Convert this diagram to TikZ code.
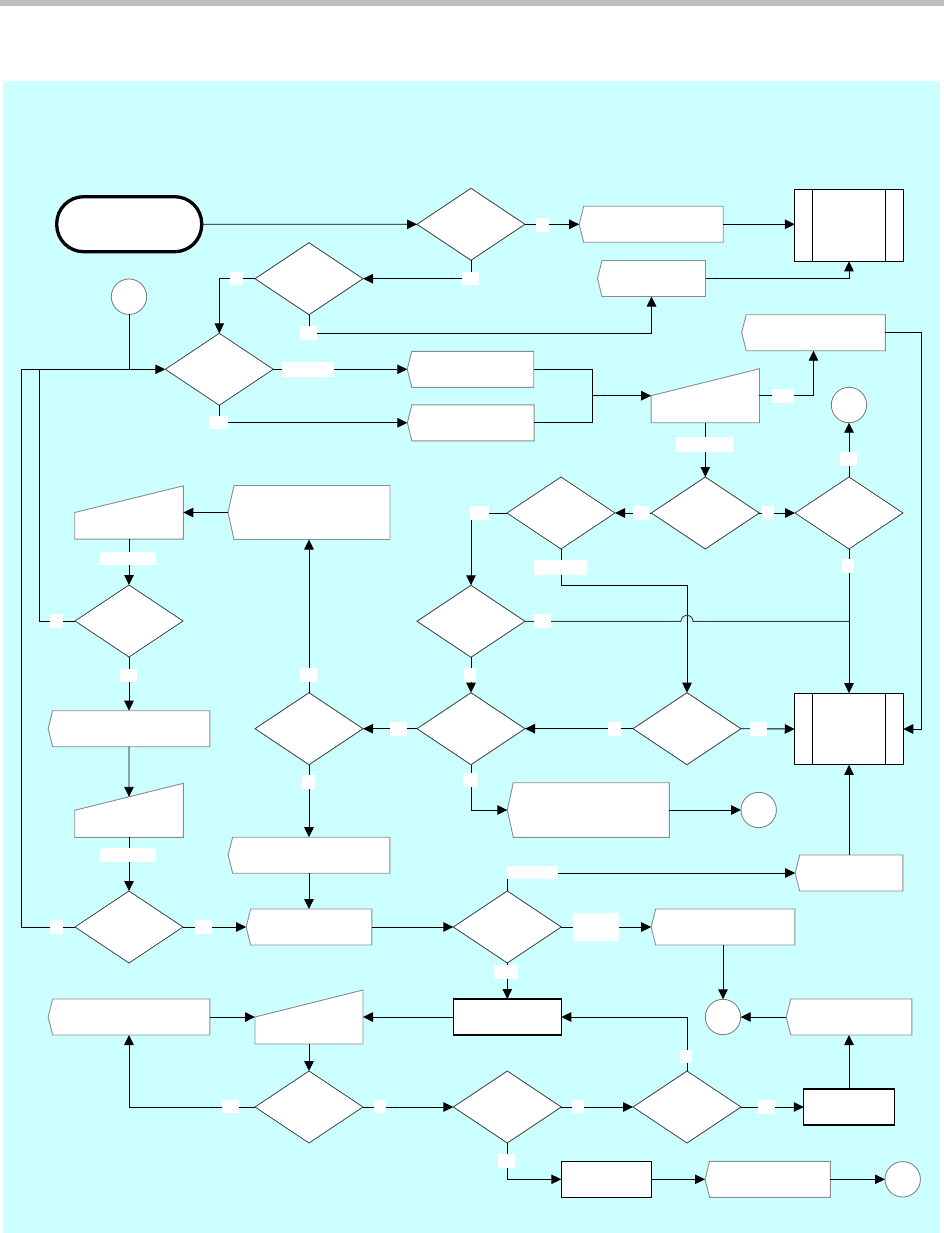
\documentclass[tikz,border=0pt]{standalone}
\usetikzlibrary{arrows.meta,calc}
\definecolor{bgcyan}{HTML}{CCFFFF}
\definecolor{topgray}{HTML}{BFBFBF}
\definecolor{pgray}{HTML}{8C8C8C}
\definecolor{dgray}{HTML}{404040}
\begin{document}
\begin{tikzpicture}[x=1pt,y=-1pt,
  box/.style 2 args={minimum width=#1, minimum height=#2, inner sep=0pt, outer sep=0pt},
  term/.style={draw=black, line width=3.3pt, fill=white, rounded corners=27pt, minimum width=145pt, minimum height=55pt, inner sep=0pt, outer sep=0pt},
  sbox/.style={draw=black, line width=1.2pt, fill=white},
  rbox/.style={draw=black, line width=1.1pt, fill=white},
  cbox/.style={circle, draw=dgray!70, line width=0.8pt, fill=white, minimum size=35.4pt, inner sep=0pt, outer sep=0pt},
  pline/.style={fill=white, draw=pgray, line width=0.9pt},
  dline/.style={fill=white, draw=dgray, line width=0.8pt},
  sline/.style={draw=black, line width=1.2pt},
  conn/.style={draw=black, line width=0.9pt},
  hopline/.style={draw=dgray, line width=0.9pt},
  arr/.style={conn, -{Triangle[length=10pt,width=9.5pt]}},
  lbl/.style 2 args={fill=white, draw=none, inner sep=0pt, outer sep=0pt, minimum width=#1, minimum height=#2}
]
\useasboundingbox (0,0) rectangle (944,1233);
\fill[topgray] (0,0) rectangle (944,6);
\fill[bgcyan] (2.5,81) rectangle (940,1233);

% terminator
\node[term] (T) at (129.2,224.2) {};

% decision holders
\node[box={108}{72}] (D1) at (471,224.3) {};
\node[box={108}{72}] (D2) at (309,278.7) {};
\node[box={108}{72}] (D3) at (219.3,369.3) {};
\node[box={108}{72}] (D4) at (705.3,513) {};
\node[box={108}{72}] (D5) at (561,513) {};
\node[box={108}{72}] (D6) at (849,513) {};
\node[box={108}{72}] (D7) at (471,621.3) {};
\node[box={108}{72}] (D8) at (687,728.7) {};
\node[box={108}{72}] (D9) at (471,728.7) {};
\node[box={108}{72}] (D10) at (309,728.7) {};
\node[box={108}{72}] (D11) at (129,621) {};
\node[box={108}{72}] (D12) at (129,927) {};
\node[box={108}{72}] (D13) at (507.3,927) {};
\node[box={108}{72}] (D14) at (507.3,1107) {};
\node[box={108}{72}] (D15) at (687,1107) {};
\node[box={108}{72}] (D16) at (309,1107) {};

% notched boxes
\node[box={144}{36}] (P1) at (651.2,224.3) {};
\node[box={108}{36}] (P2) at (651.5,278.5) {};
\node[box={126.5}{36}] (P3) at (470.5,369.3) {};
\node[box={126.7}{36}] (P4) at (470.7,422.8) {};
\node[box={143.6}{36}] (P5) at (813.5,332.7) {};
\node[box={162}{54}] (P6) at (309,512.5) {};
\node[box={161.7}{36}] (P7) at (129,728.7) {};
\node[box={161.7}{36}] (P8) at (309,855.2) {};
\node[box={125.7}{36}] (P9) at (309,927) {};
\node[box={162}{54.6}] (P10) at (588.3,810) {};
\node[box={143.7}{36}] (P11) at (723,927) {};
\node[box={107.7}{36}] (P12) at (849,873) {};
\node[box={125.6}{36}] (P13) at (849,1017) {};
\node[box={125.3}{36}] (P14) at (767.7,1179.3) {};
\node[box={161.7}{36}] (P15) at (129,1017) {};

% manual input holders
\node[box={108.3}{54}] (M1) at (705.3,395.7) {};
\node[box={108.6}{53.3}] (M2) at (129,512.5) {};
\node[box={108.6}{54}] (M3) at (129,810.3) {};
\node[box={108}{54}] (M4) at (309,1017) {};

% predefined process boxes
\node[box={108.3}{72}, sbox] (S1) at (849,225.3) {};
\node[box={108.5}{71.7}, sbox] (S2) at (849,729) {};
\node[box={108}{36}, rbox] (R1) at (507.3,1017) {};
\node[box={90.3}{36}, rbox] (R2) at (849,1107) {};
\node[box={90}{36}, rbox] (R3) at (606.3,1179.3) {};

% connector circles
\node[cbox] (C1) at (129,296.7) {};
\node[cbox] (C2) at (849,405) {};
\node[cbox] (C3) at (758.7,810) {};
\node[cbox] (C4) at (723,1017) {};
\node[cbox] (C5) at (902.7,1179.3) {};

% outlines
\foreach \n in {D1,D2,D3,D4,D5,D6,D7,D8,D9,D10,D11,D12,D13,D14,D15,D16}
  \filldraw[dline] (\n.north) -- (\n.east) -- (\n.south) -- (\n.west) -- cycle;
\foreach \n in {P1,P2,P3,P4,P5,P7,P8,P9,P11,P12,P13,P14,P15}
  \filldraw[pline] ($(\n.north west)+(4.5,0)$) -- (\n.north east) -- (\n.south east) -- ($(\n.south west)+(4.5,0)$) -- (\n.west) -- cycle;
\foreach \n in {P6,P10}
  \filldraw[pline] ($(\n.north west)+(6,0)$) -- (\n.north east) -- (\n.south east) -- ($(\n.south west)+(6,0)$) -- (\n.west) -- cycle;
\foreach \n in {M1,M2,M3,M4}
  \filldraw[pline] (\n.west) -- (\n.north east) -- (\n.south east) -- (\n.south west) -- cycle;
\foreach \n in {S1,S2} {
  \draw[sline] ($(\n.north west)+(18,0)$) -- ($(\n.south west)+(18,0)$);
  \draw[sline] ($(\n.north east)+(-18,0)$) -- ($(\n.south east)+(-18,0)$);
}

% connectors
\coordinate (J0) at (21.3,369.3);
\coordinate (J1) at (39.7,369.3);
\coordinate (J2) at (592.7,395.7);
\draw[arr] (T.east) -- (D1.west);
\draw[arr] (D1.east) -- (P1.west);
\draw[arr] (P1.east) -- (P1.east -| S1.west);
\draw[arr] (D1.south) |- (D2.east);
\draw[arr] (D2.west) -| (D3.north);
\draw[arr] (D2.south) -- ++(0,18.6) -| (P2.south);
\draw[arr] (P2.east) -| (S1.south);
\draw[conn] (C1.south) -- (C1.south |- D3.west);
\draw[arr] (J0) -- (D3.west);
\draw[conn] (D11.west) -| (J1);
\draw[conn] (D12.west) -| (J0);
\draw[arr] (D3.east) -- (P3.west);
\draw[arr] (D3.south) |- (P4.west);
\draw[conn] (P3.east) -| (J2);
\draw[conn] (P4.east) -| (J2);
\draw[arr] (J2) -- (M1.west);
\draw[arr] (M1.east) -| (P5.south);
\draw[arr] (P5.east) -- ++(36,0) |- (S2.east);
\draw[arr] (M1.south) -- (D4.north);
\draw[arr] (D6.north) -- (C2.south);
\draw[arr] (D4.west) -- (D5.east);
\draw[arr] (D4.east) -- (D6.west);
\draw[arr] (D6.south) -- (S2.north);
\draw[arr] (D5.west) -| (D7.north);
\draw[arr] (D5.south) -- ++(0,36.3) -| (D8.north);
\coordinate (J5) at (D6.south |- D7.east);
\coordinate (H1) at ($(D8.north |- D7.east)+(-6,0)$);
\draw[hopline] (D7.east) -- (H1) arc[start angle=180, end angle=360, radius=6] -- (J5);
\draw[arr] (D7.south) -- (D9.north);
\draw[arr] (D8.west) -- (D9.east);
\draw[arr] (D8.east) -- (S2.west);
\draw[arr] (D9.west) -- (D10.east);
\draw[arr] (D10.north) -- (P6.south);
\draw[arr] (P6.west) -- (M2.east);
\draw[arr] (M2.south) -- (D11.north);
\draw[arr] (D11.south) -- (P7.north);
\draw[arr] (P7.south) -- ($(M3.west)!0.5!(M3.north east)$);
\draw[arr] (M3.south) -- (D12.north);
\draw[arr] (D12.east) -- (P9.west);
\draw[arr] (D10.south) -- (P8.north);
\draw[arr] (P8.south) -- (P9.north);
\draw[arr] (P9.east) -- (D13.west);
\draw[arr] (D9.south) |- (P10.west);
\draw[arr] (P10.east) -- (C3.west);
\draw[arr] (D13.north) |- (P12.west);
\draw[arr] (P12.north) -- (S2.south);
\draw[arr] (D13.east) -- (P11.west);
\draw[arr] (P11.south) -- (C4.north);
\draw[arr] (D13.south) -- (R1.north);
\draw[arr] (R1.west) -- (M4.east);
\draw[arr] (P15.east) -- (M4.west);
\draw[arr] (M4.south) -- (D16.north);
\draw[arr] (D16.west) -| (P15.south);
\draw[arr] (D16.east) -- (D14.west);
\draw[arr] (D14.east) -- (D15.west);
\draw[arr] (D15.north) |- (R1.east);
\draw[arr] (D15.east) -- (R2.west);
\draw[arr] (R2.north) -- (P13.south);
\draw[arr] (P13.west) -- (C4.east);
\draw[arr] (D14.south) |- (R3.west);
\draw[arr] (R3.east) -- (P14.west);
\draw[arr] (P14.east) -- (C5.west);

% empty connector labels
\node[lbl={13}{13.7}] (L1) at (542.5,224.8) {};
\node[lbl={17}{13.3}] (L2) at (470.5,278.3) {};
\node[lbl={13}{13}] (L3) at (236.5,278.5) {};
\node[lbl={17}{14}] (L4) at (308.5,333) {};
\node[lbl={13}{13.7}] (L5) at (56.5,621) {};
\node[lbl={13}{14}] (L6) at (56.5,927) {};
\node[lbl={51.7}{14.7}] (L7) at (308,369.3) {};
\node[lbl={19}{13}] (L8) at (218.5,422.5) {};
\node[lbl={22.3}{13.4}] (L9) at (782.8,396) {};
\node[lbl={56.7}{14.4}] (L10) at (704.3,444.5) {};
\node[lbl={17}{13.7}] (L11) at (848.5,458.8) {};
\node[lbl={16.6}{14}] (L12) at (641.5,513) {};
\node[lbl={12}{14}] (L13) at (767.6,513) {};
\node[lbl={12.5}{13.4}] (L14) at (848.2,566) {};
\node[lbl={18.7}{14}] (L15) at (479.5,513) {};
\node[lbl={52.8}{14.7}] (L16) at (560.3,567.3) {};
\node[lbl={17}{13.7}] (L17) at (542.4,621) {};
\node[lbl={11.4}{13.4}] (L18) at (470,675) {};
\node[lbl={12.5}{13.4}] (L19) at (614.4,729) {};
\node[lbl={16.3}{13.4}] (L20) at (758.6,729) {};
\node[lbl={16.7}{13.4}] (L21) at (398.3,729) {};
\node[lbl={16.7}{13.4}] (L22) at (308.3,675) {};
\node[lbl={55.7}{13}] (L23) at (127.8,558.2) {};
\node[lbl={16.7}{13}] (L24) at (128.3,675.2) {};
\node[lbl={55.7}{13.7}] (L25) at (127.8,854.8) {};
\node[lbl={17}{13.7}] (L26) at (203.5,927) {};
\node[lbl={13.3}{14}] (L27) at (308.3,782) {};
\node[lbl={13.7}{14}] (L28) at (470,779.5) {};
\node[lbl={50.3}{13.3}] (L29) at (532.5,872.7) {};
\node[lbl={45.7}{27.4}] (L30) at (596.2,927) {};
\node[lbl={23.7}{13.7}] (L31) at (505.8,971.8) {};
\node[lbl={17}{13.3}] (L32) at (230.5,1106.7) {};
\node[lbl={12}{13.3}] (L33) at (380,1106.7) {};
\node[lbl={12}{13.3}] (L34) at (578,1106.7) {};
\node[lbl={12}{13.3}] (L35) at (686,1056.7) {};
\node[lbl={16.7}{13.3}] (L36) at (766.7,1107) {};
\node[lbl={16.7}{14}] (L37) at (506.7,1160.7) {};
\end{tikzpicture}
\end{document}
